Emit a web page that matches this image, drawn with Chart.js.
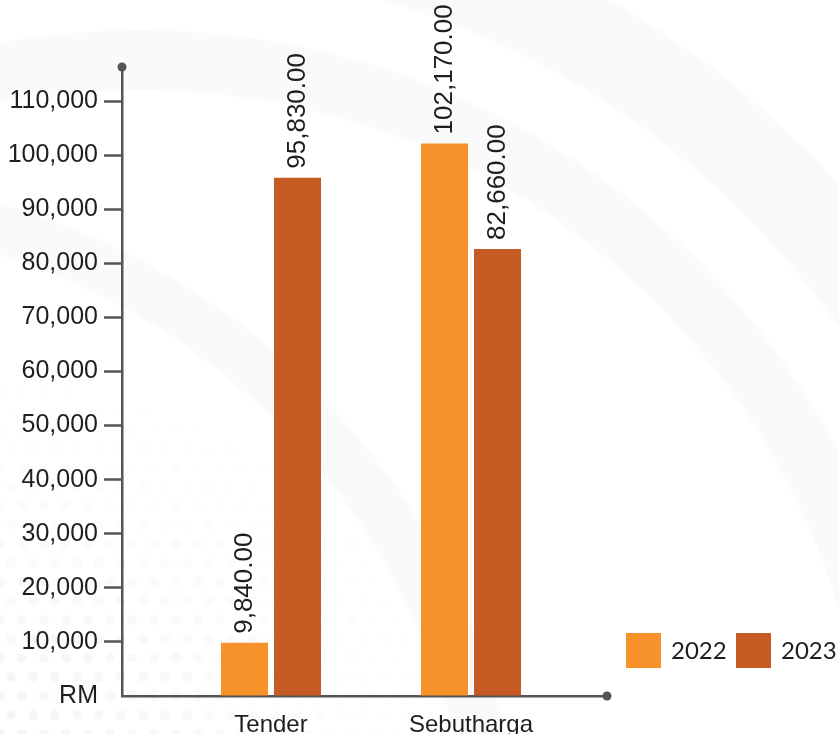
<!DOCTYPE html>
<html>
<head>
<meta charset="utf-8">
<script src="https://cdn.jsdelivr.net/npm/chart.js@4.4.0/dist/chart.umd.min.js"></script>
<style>
    html, body { margin: 0; padding: 0; background: #fff; }
    #wrap { width: 839px; height: 734px; position: relative; }
</style>
</head>
<body>
<div id="wrap"><canvas id="barChart"></canvas></div>
<script>
// chart data
var categories = ['Tender', 'Sebutharga'];
var years = ['2022', '2023'];
var values2022 = [9840, 102170];
var values2023 = [95830, 82660];
var yTickValues = [0, 10000, 20000, 30000, 40000, 50000, 60000, 70000, 80000, 90000, 100000, 110000];
var yTickLabels = ['RM', '10,000', '20,000', '30,000', '40,000', '50,000', '60,000', '70,000', '80,000', '90,000', '100,000', '110,000'];

var barColors = ['#f7922b', '#c75b24'];
var axisColor = '#555555';
var textColor = '#1e1e1e';
var fontFamily = "'Liberation Sans', Arial, sans-serif";

function toPoints(values) {
    return values.map(function (v, i) { return { x: i, y: v }; });
}

function money(v) {
    return v.toLocaleString('en-US', { minimumFractionDigits: 2, maximumFractionDigits: 2 });
}

/* soft background: light arcs and a dot pattern */
var backgroundPlugin = {
    id: 'background',
    beforeDraw: function (chart) {
        var ctx = chart.ctx;
        var w = chart.width, h = chart.height;
        ctx.save();
        ctx.fillStyle = '#ffffff';
        ctx.fillRect(0, 0, w, h);

        var arcs = [[140, 820, 760, 60], [140, 820, 900, 90], [-200, 900, 700, 50]];
        arcs.forEach(function (a) {
            ctx.beginPath();
            ctx.arc(a[0], a[1], a[2], 0, Math.PI * 2);
            ctx.strokeStyle = 'rgba(0,0,0,0.018)';
            ctx.lineWidth = a[3];
            ctx.stroke();
        });

        for (var row = 0; row < 20; row++) {
            var y = 734 - row * 19;
            for (var col = 0; col < 22; col++) {
                var x = col * 22 + (row % 2 ? 11 : 0);
                var fade = 1 - Math.hypot(x / 440, (734 - y) / 360);
                if (fade <= 0) continue;
                ctx.beginPath();
                ctx.arc(x, y, 5, 0, Math.PI * 2);
                ctx.fillStyle = 'rgba(0,0,0,' + (0.04 * fade).toFixed(3) + ')';
                ctx.fill();
            }
        }
        ctx.restore();
    }
};

/* value labels rotated over each bar */
var valueLabelPlugin = {
    id: 'valueLabels',
    afterDatasetsDraw: function (chart) {
        var ctx = chart.ctx;
        ctx.save();
        ctx.font = '26px ' + fontFamily;
        ctx.fillStyle = textColor;
        ctx.textAlign = 'left';
        ctx.textBaseline = 'middle';
        chart.data.datasets.forEach(function (ds, i) {
            chart.getDatasetMeta(i).data.forEach(function (bar, j) {
                ctx.save();
                ctx.translate(bar.x, bar.y - 9);
                ctx.rotate(-Math.PI / 2);
                ctx.fillText(money(ds.data[j].y), 0, 0);
                ctx.restore();
            });
        });
        ctx.restore();
    }
};

/* axis end dots and legend at bottom right */
var extrasPlugin = {
    id: 'extras',
    afterDraw: function (chart) {
        var ctx = chart.ctx;
        var area = chart.chartArea;
        ctx.save();
        ctx.fillStyle = axisColor;
        ctx.beginPath();
        ctx.arc(area.left, area.top, 4.5, 0, Math.PI * 2);
        ctx.fill();
        ctx.beginPath();
        ctx.arc(area.right, area.bottom, 4.5, 0, Math.PI * 2);
        ctx.fill();

        ctx.font = "24px Lato, 'Liberation Sans', sans-serif";
        ctx.textBaseline = 'middle';
        ctx.textAlign = 'left';
        chart.data.datasets.forEach(function (ds, i) {
            var bx = 626 + i * 110;
            ctx.fillStyle = ds.backgroundColor;
            ctx.fillRect(bx, 633, 35, 35);
            ctx.fillStyle = textColor;
            ctx.fillText(ds.label, bx + 45, 651);
        });
        ctx.restore();
    }
};

new Chart('barChart', {
    type: 'bar',
    data: {
        datasets: [{
            label: years[0],
            data: toPoints(values2022),
            backgroundColor: barColors[0]
        }, {
            label: years[1],
            data: toPoints(values2023),
            backgroundColor: barColors[1]
        }]
    },
    options: {
        responsive: true,
        maintainAspectRatio: false,
        animation: false,
        categoryPercentage: 0.53,
        barPercentage: 0.887,
        layout: {
            padding: { top: 67, right: 232, left: 0, bottom: 0 }
        },
        plugins: {
            legend: { display: false },
            tooltip: { enabled: false }
        },
        scales: {
            x: {
                type: 'linear',
                offset: false,
                min: -0.745,
                max: 1.68,
                afterBuildTicks: function (scale) {
                    scale.ticks = categories.map(function (c, i) { return { value: i }; });
                },
                afterFit: function (scale) { scale.height = 38; },
                ticks: {
                    callback: function (value) { return categories[value]; },
                    color: textColor,
                    font: { family: fontFamily, size: 24 },
                    padding: 7,
                    autoSkip: false,
                    maxRotation: 0
                },
                grid: { display: false },
                border: { display: true, color: axisColor, width: 2.5 }
            },
            y: {
                min: 0,
                max: 116300,
                afterBuildTicks: function (scale) {
                    scale.ticks = yTickValues.map(function (v) { return { value: v }; });
                },
                afterFit: function (scale) { scale.width = 122; },
                ticks: {
                    callback: function (value, index) { return yTickLabels[index]; },
                    color: textColor,
                    font: { family: fontFamily, size: 25 },
                    padding: 6
                },
                grid: {
                    drawOnChartArea: false,
                    tickLength: 18,
                    tickWidth: 2.5,
                    tickColor: function (ctx) {
                        return ctx.tick && ctx.tick.value === 0 ? 'rgba(0,0,0,0)' : axisColor;
                    }
                },
                border: { display: true, color: axisColor, width: 2.5 }
            }
        }
    },
    plugins: [backgroundPlugin, valueLabelPlugin, extrasPlugin]
});
</script>
</body>
</html>
